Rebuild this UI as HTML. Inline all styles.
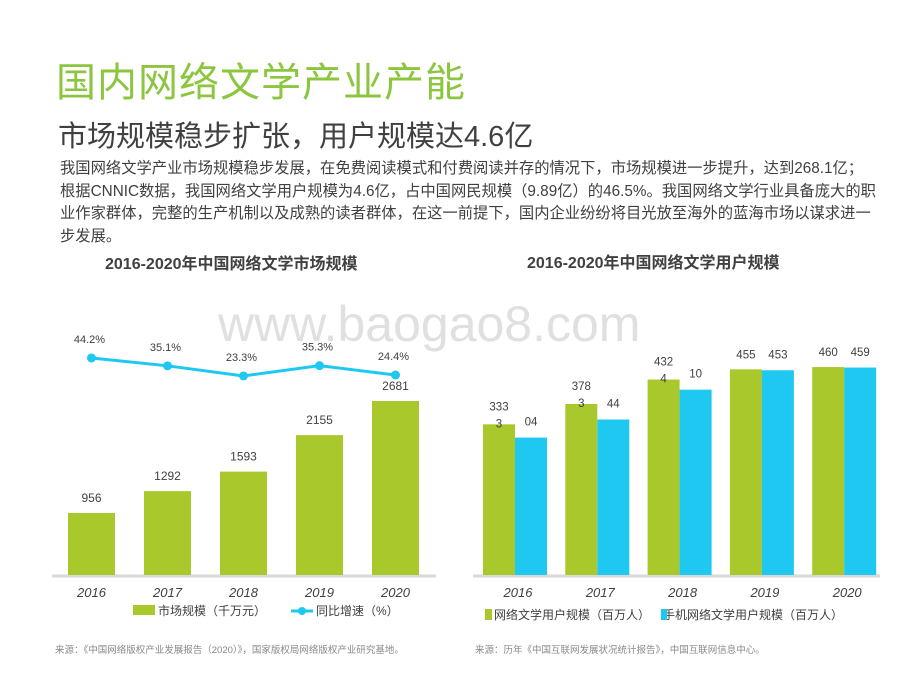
<!DOCTYPE html>
<html><head><meta charset="utf-8">
<style>
body{margin:0;width:920px;height:690px;background:#fff;position:relative;overflow:hidden;font-family:"Liberation Sans","Noto Sans CJK SC",sans-serif;}
.abs{position:absolute;}
</style></head>
<body>
<div class="abs" style="left:56px;top:50px;font-size:40px;color:#8cc63f;letter-spacing:1px;">国内网络文学产业产能</div>
<div class="abs" style="left:58px;top:113px;font-size:29px;color:#404040;">市场规模稳步扩张，用户规模达4.6亿</div>
<div class="abs" style="left:60px;top:158px;white-space:nowrap;font-size:15.3px;line-height:22.5px;color:#404040;">我国网络文学产业市场规模稳步发展，在免费阅读模式和付费阅读并存的情况下，市场规模进一步提升，达到268.1亿；<br>根据CNNIC数据，我国网络文学用户规模为4.6亿，占中国网民规模（9.89亿）的46.5%。我国网络文学行业具备庞大的职<br>业作家群体，完整的生产机制以及成熟的读者群体，在这一前提下，国内企业纷纷将目光放至海外的蓝海市场以谋求进一<br>步发展。</div>
<div class="abs" style="left:105px;top:250px;font-size:16px;font-weight:bold;color:#404040;">2016-2020年中国网络文学市场规模</div>
<div class="abs" style="left:527px;top:249px;font-size:16px;font-weight:bold;color:#404040;">2016-2020年中国网络文学用户规模</div>
<div class="abs" style="left:218px;top:295px;font-size:50px;color:#e0e0e0;">www.baogao8.com</div>
<svg id="chart" class="abs" style="left:0;top:0" width="920" height="690"></svg>
<div class="abs" style="left:55px;top:642px;font-size:9.5px;color:#888;">来源：《中国网络版权产业发展报告（2020）》，国家版权局网络版权产业研究基地。</div>
<div class="abs" style="left:475px;top:642px;font-size:9.5px;color:#888;">来源：历年《中国互联网发展状况统计报告》，中国互联网信息中心。</div>
<script>
const years=["2016","2017","2018","2019","2020"];
const marketValues=[956,1292,1593,2155,2681];
const growthValues=[44.2,35.1,23.3,35.3,24.4];
const growthLabels=["44.2%","35.1%","23.3%","35.3%","24.4%"];
const userValues=[333.3,378.3,432.4,455,460];
const mobileValues=[304,344,410,453,459];
const userLabels=[["333","3"],["378","3"],["432","4"],["455"],["460"]];
const mobileLabels=["04","44","10","453","459"];
const svg=document.getElementById('chart');
const NS="http://www.w3.org/2000/svg";
function mk(t,a,txt){const e=document.createElementNS(NS,t);for(const k in a)e.setAttribute(k,a[k]);if(txt!=null)e.textContent=txt;svg.appendChild(e);return e;}
const base=575;
const lx=i=>91.5+i*76;
const ly=v=>base-v*0.0649;
const gy=v=>396-v*0.86;
let e=mk('line',{x1:52,y1:base+1,x2:436,y2:base+1,stroke:'#d9d9d9','stroke-width':3});

marketValues.forEach((v,i)=>{
 const b=mk('rect',{x:lx(i)-23.5,y:ly(v),width:47,height:base-ly(v),fill:'#a9c82b'});
 
 
 const t=mk('text',{x:lx(i),y:ly(v)-11,'text-anchor':'middle','font-size':12,fill:'#404040'},String(v));
 
 
 const yl=mk('text',{x:lx(i),y:597,'text-anchor':'middle','font-size':13,fill:'#404040','font-style':'italic'},years[i]);
 
 
});
const pts=growthValues.map((v,i)=>lx(i)+','+gy(v)).join(' ');
e=mk('polyline',{points:pts,fill:'none',stroke:'#1ec8f0','stroke-width':3});

growthValues.forEach((v,i)=>{
 const c=mk('circle',{cx:lx(i),cy:gy(v),r:4.5,fill:'#1ec8f0'});
 
 
 const t=mk('text',{x:lx(i)-2,y:gy(v)-15,'text-anchor':'middle','font-size':11,fill:'#404040'},growthLabels[i]);
 
 
});
e=mk('rect',{x:133,y:605,width:22,height:10,fill:'#a9c82b'});
e=mk('text',{x:158,y:615,'font-size':12,fill:'#404040'},'市场规模（千万元）');
e=mk('line',{x1:291,y1:611,x2:313,y2:611,stroke:'#1ec8f0','stroke-width':3});
e=mk('circle',{cx:302,cy:611,r:4,fill:'#1ec8f0'});
e=mk('text',{x:316,y:615,'font-size':12,fill:'#404040'},'同比增速（%）');
const rx=i=>515+i*82.3;
const ry=v=>base-v*0.452;
e=mk('line',{x1:473,y1:base+1,x2:880,y2:base+1,stroke:'#d9d9d9','stroke-width':3});

userValues.forEach((v,i)=>{
 const b=mk('rect',{x:rx(i)-32,y:ry(v),width:32,height:base-ry(v),fill:'#a9c82b'});
 
 
 const m=mobileValues[i];
 const b2=mk('rect',{x:rx(i),y:ry(m),width:32,height:base-ry(m),fill:'#1ec8f0'});
 
 
 const lines=userLabels[i];
 lines.forEach((s,k)=>{
  const t=mk('text',{x:rx(i)-16,y:ry(v)-(lines.length===2?(k===0?14:-3):11),'text-anchor':'middle','font-size':11.5,fill:'#404040'},s);
  
  
 });
 const t2=mk('text',{x:rx(i)+16,y:(i>=3?ry(v)-11:ry(m)-12),'text-anchor':'middle','font-size':11.5,fill:'#404040'},mobileLabels[i]);
 
 
 const yl=mk('text',{x:rx(i)+3,y:597,'text-anchor':'middle','font-size':13,fill:'#404040','font-style':'italic'},years[i]);
 
 
});
e=mk('rect',{x:485,y:609,width:7,height:11,fill:'#a9c82b'});
e=mk('text',{x:494,y:619,'font-size':12,fill:'#404040'},'网络文学用户规模（百万人）');
e=mk('text',{x:663,y:619,'font-size':12,fill:'#404040'},'手机网络文学用户规模（百万人）');
e=mk('rect',{x:661,y:609,width:6,height:11,fill:'#1ec8f0'});
</script>
</body></html>
